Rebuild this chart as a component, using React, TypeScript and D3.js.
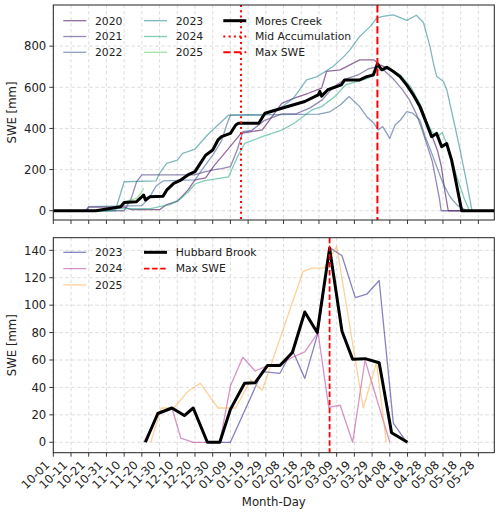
import { useEffect, useRef } from "react";
import * as d3 from "d3";

// x positions are days after 10-01 (leap-year calendar), SWE in mm
const xTickLabels = [
  "10-01", "10-11", "10-21", "10-31", "11-10", "11-20", "11-30", "12-10",
  "12-20", "12-30", "01-09", "01-19", "01-29", "02-08", "02-18", "02-28",
  "03-09", "03-19", "03-29", "04-08", "04-18", "04-28", "05-08", "05-18", "05-28",
];

// ---- Mores Creek ----
const moresYears = ["2020", "2021", "2022", "2023", "2024", "2025"];

const mores2020: [number, number][] = [
  [0, 0], [19, 0], [20, 18], [40, 18], [44, 5], [60, 5], [64, 30], [70, 45], [76, 100],
  [80, 150], [86, 160], [91, 222], [95, 262], [104.5, 360], [106, 376], [118, 393],
  [129, 522], [136, 547], [144, 571], [151.5, 596], [154.3, 677], [162, 685], [173, 733],
  [181, 733], [184.4, 709], [190, 690], [196, 650], [200, 610], [204, 560], [208, 500],
  [211, 430], [214, 360], [217, 290], [219, 220], [221, 100], [223, 0], [249, 0],
];
const mores2021: [number, number][] = [
  [0, 0], [40, 0], [44, 60], [47, 140], [50, 174], [75, 174], [80, 175], [86, 190],
  [91, 200], [95, 205], [100, 214], [104, 300], [107, 384], [112, 390], [119, 438],
  [129, 471], [137, 471], [145, 500], [152, 540], [158, 600], [165, 640], [172, 660],
  [178, 690], [183, 700], [187, 680], [192, 640], [197, 590], [201, 540], [205, 470],
  [208, 400], [211, 320], [214, 240], [216, 150], [218, 60], [219, 0], [249, 0],
];
const mores2022: [number, number][] = [
  [0, 0], [18, 0], [20, 20], [50, 25], [54, 60], [58, 120], [62, 145], [80, 150],
  [84, 200], [90, 270], [95, 340], [98, 420], [100, 465], [150, 470], [156, 480],
  [162, 514], [167, 555], [173, 506], [177, 457], [181, 425], [183.5, 393], [186, 409],
  [190, 352], [193, 417], [196, 441], [199.6, 482], [203, 474], [207, 441], [210, 360],
  [213, 295], [216.5, 214], [220, 133], [224, 68], [228, 27], [233.5, 0], [249, 0],
];
const mores2023: [number, number][] = [
  [0, 0], [35, 0], [40, 141], [58, 145], [60, 182], [64, 230], [70, 246], [73, 279],
  [76, 287], [80, 300], [87, 368], [94, 425], [99, 465], [118, 465], [124, 480],
  [130, 510], [135.6, 547], [139, 587], [143, 636], [149, 652], [158, 701], [164, 749],
  [167.5, 782], [173, 847], [179, 896], [182.6, 936], [186, 945], [192, 952],
  [199.6, 925], [205, 950], [209, 915], [212.7, 798], [214.6, 717], [216.5, 652],
  [220.3, 628], [222.2, 587], [226, 441], [229.7, 295], [233.5, 133], [236.4, 0], [249, 0],
];
const mores2024: [number, number][] = [
  [0, 0], [30, 0], [35, 10], [55, 10], [60, 20], [66, 30], [72, 60], [76, 90], [80, 130],
  [85, 145], [99, 165], [104, 262], [108, 327], [118, 360], [129, 392], [136, 425],
  [146, 490], [151.5, 506], [159, 555], [165, 612], [172, 630], [178, 645], [183, 680],
  [186, 690], [190, 690], [196, 660], [202, 600], [207, 520], [211, 430], [214, 380],
  [217, 360], [219.5, 380], [222, 330], [225, 250], [228, 160], [232, 60], [235, 0], [249, 0],
];
const mores2025: [number, number][] = [
  [0, 0], [28, 0], [32, 10], [36, 20], [41, 45], [47, 60], [49, 80], [51, 109],
];
const moresMedian: [number, number][] = [
  [0, 0], [24, 0], [32, 11], [38, 19], [40, 40], [47, 44], [50, 68], [51, 76], [52, 52],
  [54.6, 68], [62, 71], [64, 100], [68, 133], [72, 149], [76, 174], [80, 190], [83, 230],
  [86, 270], [90, 295], [93, 344], [95, 360], [100, 376], [103, 417], [104.5, 425],
  [116, 425], [119.5, 474], [129, 498], [142, 531], [149.6, 563], [150.5, 580],
  [151.5, 557], [155, 588], [162.6, 612], [164.5, 636], [173, 636], [177, 652],
  [180.7, 660], [183, 714], [185.5, 685], [188.3, 697], [192, 677], [195.8, 652],
  [199.5, 612], [203.3, 563], [207, 506], [210.7, 425], [213.6, 360], [216.4, 376],
  [219.3, 311], [222.1, 327], [224.9, 246], [226.8, 165], [230.6, 0], [249, 0],
];
const moresMidAccumDay = 106;
const moresMaxDay = 183;
const moresYTicks = [0, 200, 400, 600, 800];

// ---- Hubbard Brook ----
const hubbardYears = ["2023", "2024", "2025"];
const hb2023Days = [87, 100, 118, 128, 135, 142, 149.5, 156, 163, 170.5, 177, 184, 192, 199.5];
const hb2023Swe = [0, 0, 51.5, 50.3, 67.3, 46.6, 80, 142, 136, 105.5, 108, 118, 14, 0];
const hb2024Days = [51, 59, 67, 72, 79, 94, 100, 107, 114, 121, 128, 135, 142, 149.5, 155.5, 162, 169, 176, 190];
const hb2024Swe = [0, 20, 25, 3, 0, 0, 41, 62, 52, 56, 57, 62, 66, 80, 25.5, 27, 0, 60, 0];
const hb2025Days = [55, 61, 68, 76, 83, 93, 103, 111.5, 118, 141, 146, 153, 160, 175, 182.5, 188];
const hb2025Swe = [0, 25, 25, 37, 43, 25, 25, 45.5, 38, 124.5, 127, 127, 143, 25, 58, 0];
const hubbardDays = [52, 59, 67, 74, 79, 87, 94, 100, 108, 114, 121, 128, 135, 142, 149, 156, 163, 169, 176, 184, 191, 200];
const hubbardSwe = [0, 21, 25, 19.5, 25, 0, 0, 24, 43, 43.5, 56, 56, 65.5, 95, 80, 141.5, 81, 60.5, 61, 58, 7, 0];
const hubbardMaxDay = 156;
const hubbardYTicks = [0, 20, 40, 60, 80, 100, 120, 140];

const FONT = "DejaVu Sans, sans-serif";
const LEFT = 53.3;
const RIGHT = 494.3;

type Pt = [number, number];
type LegendItem = { label: string; color: string; width: number; dash?: string; opacity?: number };

export default function App() {
  const svgRef = useRef<SVGSVGElement>(null);

  useEffect(() => {
    if (!svgRef.current) return;
    const svg = d3.select(svgRef.current);
    svg.selectAll("*").remove();

    const x = d3.scaleLinear().domain([0, 249]).range([LEFT, RIGHT]);
    const tickDays = xTickLabels.map((_, i) => i * 10);

    const drawPanel = (opts: {
      id: string;
      y0: number;
      y1: number;
      yDomain: [number, number];
      yTicks: number[];
      series: { pts: Pt[]; color: string; width: number; opacity: number }[];
      vlines: { day: number; dash: string; width: number }[];
      legendCols: LegendItem[][];
      legendColX: number[];
      legendRowY: number;
      legendRowGap: number;
      xLabels: boolean;
    }) => {
      const y = d3.scaleLinear().domain(opts.yDomain).range([opts.y1, opts.y0]);
      const g = svg.append("g");

      g.append("clipPath")
        .attr("id", opts.id)
        .append("rect")
        .attr("x", LEFT)
        .attr("y", opts.y0)
        .attr("width", RIGHT - LEFT)
        .attr("height", opts.y1 - opts.y0);

      // grid
      const grid = g.append("g").attr("stroke", "#b0b0b0").attr("stroke-opacity", 0.55)
        .attr("stroke-width", 0.8).attr("stroke-dasharray", "3.5,2.5");
      tickDays.forEach((d) => {
        grid.append("line").attr("x1", x(d)).attr("x2", x(d)).attr("y1", opts.y0).attr("y2", opts.y1);
      });
      opts.yTicks.forEach((v) => {
        grid.append("line").attr("x1", LEFT).attr("x2", RIGHT).attr("y1", y(v)).attr("y2", y(v));
      });

      const line = d3.line<Pt>().x((d) => x(d[0])).y((d) => y(d[1]));
      const plot = g.append("g").attr("clip-path", `url(#${opts.id})`);
      opts.series.forEach((s) => {
        plot.append("path")
          .attr("d", line(s.pts))
          .attr("fill", "none")
          .attr("stroke", s.color)
          .attr("stroke-opacity", s.opacity)
          .attr("stroke-width", s.width)
          .attr("stroke-linejoin", "round");
      });

      opts.vlines.forEach((v) => {
        plot.append("line")
          .attr("x1", x(v.day)).attr("x2", x(v.day))
          .attr("y1", opts.y0).attr("y2", opts.y1)
          .attr("stroke", "#ff0000")
          .attr("stroke-width", v.width)
          .attr("stroke-dasharray", v.dash);
      });

      // frame
      g.append("rect")
        .attr("x", LEFT).attr("y", opts.y0)
        .attr("width", RIGHT - LEFT).attr("height", opts.y1 - opts.y0)
        .attr("fill", "none").attr("stroke", "#222").attr("stroke-width", 1);

      // y ticks
      opts.yTicks.forEach((v) => {
        g.append("line").attr("x1", LEFT - 4).attr("x2", LEFT).attr("y1", y(v)).attr("y2", y(v))
          .attr("stroke", "#222").attr("stroke-width", 0.9);
        g.append("text")
          .attr("x", LEFT - 7).attr("y", y(v)).attr("dy", "0.36em")
          .attr("text-anchor", "end").attr("font-family", FONT).attr("font-size", 11.7)
          .attr("fill", "#222").text(v);
      });

      // x ticks
      tickDays.forEach((d, i) => {
        g.append("line").attr("x1", x(d)).attr("x2", x(d)).attr("y1", opts.y1).attr("y2", opts.y1 + 4)
          .attr("stroke", "#222").attr("stroke-width", 0.9);
        if (opts.xLabels) {
          const px = x(d) - 3;
          const py = opts.y1 + 13;
          g.append("text")
            .attr("transform", `translate(${px},${py}) rotate(-45)`)
            .attr("text-anchor", "end").attr("font-family", FONT).attr("font-size", 11.7)
            .attr("fill", "#222").text(xTickLabels[i]);
        }
      });

      g.append("text")
        .attr("transform", `translate(15.5,${(opts.y0 + opts.y1) / 2}) rotate(-90)`)
        .attr("text-anchor", "middle").attr("font-family", FONT).attr("font-size", 11.7)
        .attr("fill", "#222").text("SWE [mm]");

      // legend
      opts.legendCols.forEach((col, ci) => {
        col.forEach((item, ri) => {
          const lx = opts.legendColX[ci];
          const ly = opts.legendRowY + ri * opts.legendRowGap;
          g.append("line")
            .attr("x1", lx).attr("x2", lx + 23).attr("y1", ly).attr("y2", ly)
            .attr("stroke", item.color).attr("stroke-width", item.width)
            .attr("stroke-opacity", item.opacity ?? 1)
            .attr("stroke-dasharray", item.dash ?? null);
          g.append("text")
            .attr("x", lx + 31.7).attr("y", ly).attr("dy", "0.36em")
            .attr("font-family", FONT).attr("font-size", 10.8).attr("fill", "#222")
            .text(item.label);
        });
      });

      return y;
    };

    // Mores Creek panel
    const moresData = [mores2020, mores2021, mores2022, mores2023, mores2024, mores2025];
    const moresColors = moresYears.map((_, i) => d3.interpolateViridis(i * 0.15));
    const yearAlpha = 0.58;
    const dotted = "2,3.3";
    const dashedTop = "7.4,3.2";

    drawPanel({
      id: "clip-mores",
      y0: 5,
      y1: 220,
      yDomain: [-45, 1000],
      yTicks: moresYTicks,
      series: [
        ...moresData.map((pts, i) => ({ pts, color: moresColors[i], width: 1.3, opacity: yearAlpha })),
        { pts: moresMedian, color: "#000", width: 3, opacity: 1 },
      ],
      vlines: [
        { day: moresMidAccumDay, dash: dotted, width: 2 },
        { day: moresMaxDay, dash: dashedTop, width: 2 },
      ],
      legendCols: [
        moresYears.slice(0, 3).map((label, i) => ({ label, color: moresColors[i], width: 1.3, opacity: yearAlpha })),
        moresYears.slice(3).map((label, i) => ({ label, color: moresColors[i + 3], width: 1.3, opacity: yearAlpha })),
        [
          { label: "Mores Creek", color: "#000", width: 3 },
          { label: "Mid Accumulation", color: "#ff0000", width: 2, dash: dotted },
          { label: "Max SWE", color: "#ff0000", width: 2, dash: dashedTop },
        ],
      ],
      legendColX: [63.3, 144, 223.3],
      legendRowY: 20.7,
      legendRowGap: 15.8,
      xLabels: false,
    });

    // Hubbard Brook panel
    const zip = (days: number[], swe: number[]): Pt[] => days.map((d, i) => [d, swe[i]]);
    const hbData = [zip(hb2023Days, hb2023Swe), zip(hb2024Days, hb2024Swe), zip(hb2025Days, hb2025Swe)];
    const hbColors = hubbardYears.map((_, i) => d3.interpolatePlasma(i * 0.4));
    const hbAlpha = 0.5;
    const dashedBottom = "5.5,2.6";

    drawPanel({
      id: "clip-hubbard",
      y0: 237.7,
      y1: 452.7,
      yDomain: [-7.6, 149.2],
      yTicks: hubbardYTicks,
      series: [
        ...hbData.map((pts, i) => ({ pts, color: hbColors[i], width: 1.3, opacity: hbAlpha })),
        { pts: zip(hubbardDays, hubbardSwe), color: "#000", width: 3, opacity: 1 },
      ],
      vlines: [{ day: hubbardMaxDay, dash: dashedBottom, width: 1.8 }],
      legendCols: [
        hubbardYears.map((label, i) => ({ label, color: hbColors[i], width: 1.3, opacity: hbAlpha })),
        [
          { label: "Hubbard Brook", color: "#000", width: 3 },
          { label: "Max SWE", color: "#ff0000", width: 1.8, dash: dashedBottom },
        ],
      ],
      legendColX: [63.3, 144],
      legendRowY: 252.3,
      legendRowGap: 16.3,
      xLabels: true,
    });

    svg.append("text")
      .attr("x", (LEFT + RIGHT) / 2).attr("y", 506)
      .attr("text-anchor", "middle").attr("font-family", FONT).attr("font-size", 11.7)
      .attr("fill", "#222").text("Month-Day");
  }, []);

  return (
    <svg
      ref={svgRef}
      width={500}
      height={514}
      style={{ position: "absolute", left: 0, top: 0, background: "#fff" }}
    ></svg>
  );
}
